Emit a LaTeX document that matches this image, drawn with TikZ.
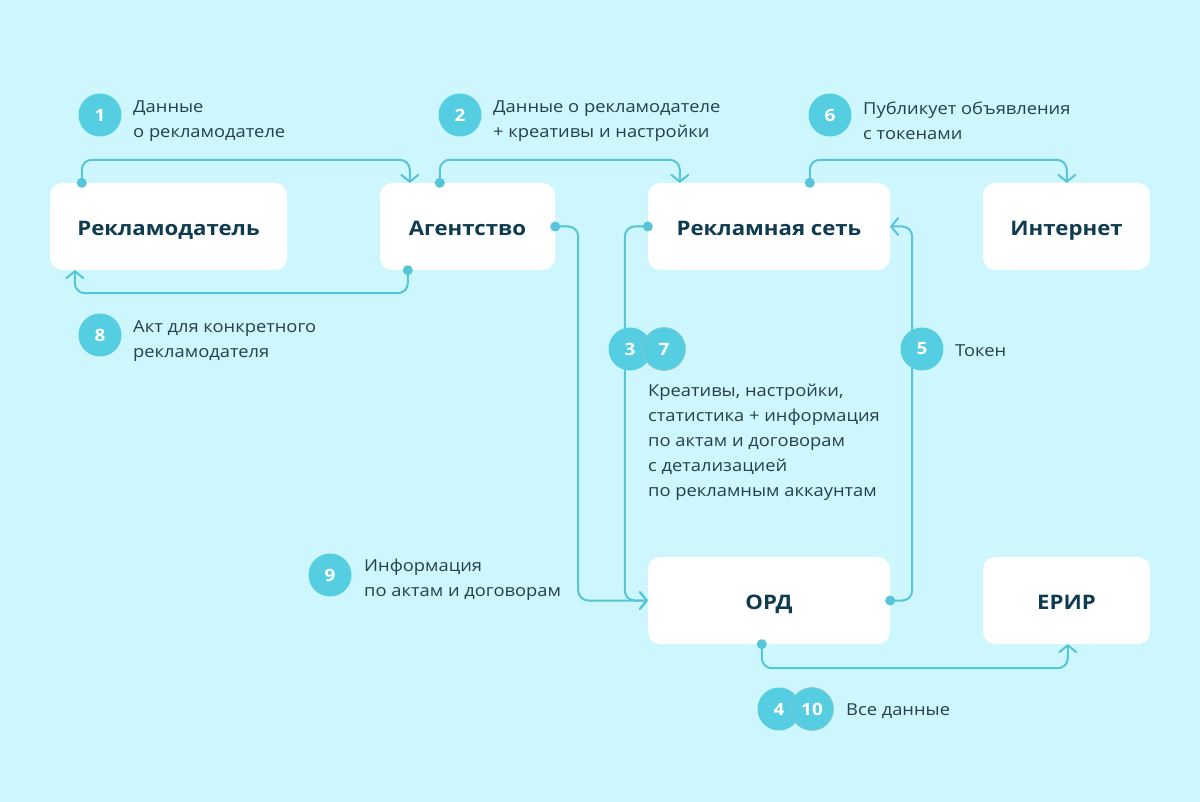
\documentclass[tikz,border=0pt]{standalone}
\usepackage{fontspec}
\setmainfont[FakeStretch=1.11]{Open Sans}
\usetikzlibrary{arrows.meta,calc}
\definecolor{bgc}{HTML}{CDF7FC}
\definecolor{linec}{HTML}{56C4D9}
\definecolor{circc}{HTML}{56CEE2}
\definecolor{titlec}{HTML}{0E3B50}
\definecolor{textc}{HTML}{26404B}
\begin{document}
\begin{tikzpicture}[x=1pt,y=-1pt,
  box/.style={fill=white, rounded corners=12pt, minimum height=87pt, inner sep=0pt,
    text height=20pt, text depth=2pt,
    font=\bfseries\fontsize{20}{24}\selectfont, text=titlec},
  num/.style={circle, fill=circc, text=white, minimum size=43pt, inner sep=0pt,
    font=\bfseries\fontsize{17}{20}\selectfont},
  numtop/.style={num, draw=linec!80!black!60, line width=0.6pt},
  lbl/.style={anchor=west, align=left, inner sep=0pt, text=textc,
    font=\fontsize{16.5}{25}\selectfont},
  conn/.style={draw=linec, line width=2pt, rounded corners=10pt, line cap=round,
    -{Straight Barb[length=7pt,width=17pt,round]}},
  dotc/.style={fill=linec}
]
\useasboundingbox[fill=bgc] (0,0) rectangle (1200,802);

% boxes
\node[box, minimum width=237pt] (adv) at (168.5,226.5) {Рекламодатель};
\node[box, minimum width=175pt] (ag) at (467.5,226.5) {Агентство};
\node[box, minimum width=242pt] (rs) at (769,226.5) {Рекламная сеть};
\node[box, minimum width=167pt] (inet) at (1066.5,226.5) {Интернет};
\node[box, minimum width=242pt] (ord) at (769,600.5) {ОРД};
\node[box, minimum width=167pt] (erir) at (1066.5,600.5) {ЕРИР};

% connector start points
\coordinate (s1) at ([xshift=32pt]adv.north west);
\coordinate (e1) at ([xshift=30pt]ag.north west);
\coordinate (s2) at ([xshift=60pt]ag.north west);
\coordinate (e2) at ([xshift=32pt]rs.north west);
\coordinate (s6) at ([xshift=162pt]rs.north west);
\coordinate (e6) at ([xshift=84pt]inet.north west);
\coordinate (s8) at ([xshift=28pt]ag.south west);
\coordinate (e8) at ([xshift=25pt]adv.south west);
\coordinate (s4) at ([xshift=114pt]ord.south west);
\coordinate (e4) at ([xshift=85pt]erir.south west);

% connectors
\draw[conn] (s1) -- ++(0,-23) -| (e1);
\draw[conn] (s2) -- ++(0,-23) -| (e2);
\draw[conn] (s6) -- ++(0,-23) -| (e6);
\draw[conn] (s8) -- ++(0,23) -| (e8);
\draw[conn] (ag.east) -- ++(23,0) |- (ord.west);
\draw[conn] (rs.west) -- ++(-23,0) |- (ord.west);
\draw[conn] (ord.east) -- ++(22,0) |- (rs.east);
\draw[conn] (s4) -- ++(0,24) -| (e4);

% dots
\foreach \p in {s1,s2,s6,s8,s4,ag.east,rs.west,ord.east}
  \fill[dotc] (\p) circle (5pt);

% numbers and labels
\node[num] (n1) at (100,115) {1};
\node[lbl] (t1) at (133,121) {Данные\\о рекламодателе};
\node[num] (n2) at (460,115) {2};
\node[lbl] (t2) at (493,121) {Данные о рекламодателе\\+ креативы и настройки};
\node[num] (n6) at (830,115) {6};
\node[lbl] (t6) at (863,121) {Публикует объявления\\с токенами};
\node[num] (n8) at (100,335) {8};
\node[lbl] (t8) at (133,341) {Акт для конкретного\\рекламодателя};
\node[num] (n3) at (630,349) {3};
\node[numtop] (n7) at (664,349) {7};
\node[lbl] (t37) at (648,442) {Креативы, настройки,\\статистика + информация\\по актам и договорам\\с детализацией\\по рекламным аккаунтам};
\node[num] (n5) at (922,349) {5};
\node[lbl] (t5) at (955,351) {Токен};
\node[num] (n9) at (330,575) {9};
\node[lbl] (t9) at (364,580) {Информация\\по актам и договорам};
\node[num] (n4) at (779,709) {4};
\node[numtop] (n10) at (812,709) {10};
\node[lbl] (t4) at (846,711) {Все данные};
\end{tikzpicture}
\end{document}
